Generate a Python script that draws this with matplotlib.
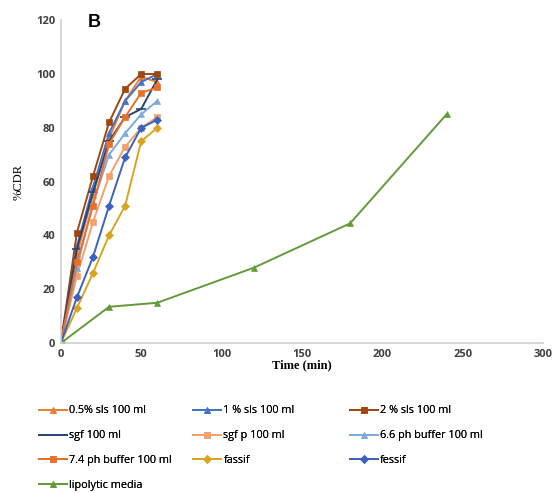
import matplotlib.pyplot as plt

# time points (min)
t_short = [0, 10, 20, 30, 40, 50, 60]
t_lipo = [0, 30, 60, 120, 180, 240]

sls_05 = [0, 33, 55, 76, 90, 99, 97]
sls_1 = [0, 36, 58, 78, 90, 97, 100]
sls_2 = [0, 41, 62, 82, 94.5, 100, 100]
sgf = [0, 35, 56, 75, 84, 87, 98]
sgf_p = [0, 25, 45, 62, 73, 80, 84]
ph_66 = [0, 28, 52, 70, 78, 85, 90]
ph_74 = [0, 30, 51, 74, 84, 93, 95]
fassif = [0, 13, 26, 40, 51, 75, 80]
fessif = [0, 17, 32, 51, 69, 80, 83]
lipolytic = [0, 13.5, 15, 28, 44.5, 85]

x_ticks = [0, 50, 100, 150, 200, 250, 300]
y_ticks = [0, 20, 40, 60, 80, 100, 120]

series = [
    ("0.5% sls 100 ml", t_short, sls_05, "#ED7D31", "^"),
    ("1 % sls 100 ml", t_short, sls_1, "#4472C4", "^"),
    ("2 % sls 100 ml", t_short, sls_2, "#9E480E", "s"),
    ("sgf 100 ml", t_short, sgf, "#264478", "_"),
    ("sgf p 100 ml", t_short, sgf_p, "#F4A06A", "s"),
    ("6.6 ph buffer 100 ml", t_short, ph_66, "#7FA9DC", "^"),
    ("7.4 ph buffer 100 ml", t_short, ph_74, "#E8712A", "s"),
    ("fassif", t_short, fassif, "#D9A520", "D"),
    ("fessif", t_short, fessif, "#3B62C0", "D"),
    ("lipolytic media", t_lipo, lipolytic, "#639A3A", "^"),
]

fig = plt.figure(figsize=(5.58, 4.93), dpi=100)
ax = fig.add_axes([0.109, 0.304, 0.864, 0.655])

handles = {}
for label, xs, ys, color, marker in series:
    ms = 5 if marker != "D" else 4
    if marker == "_":
        ms = 7
    h, = ax.plot(xs, ys, color=color, marker=marker, markersize=ms,
                 linewidth=1.4, markeredgewidth=1.2 if marker == "_" else 0.5,
                 label=label)
    handles[label] = h

ax.set_xlim(0, 300)
ax.set_ylim(0, 120)
ax.set_xticks(x_ticks)
ax.set_yticks(y_ticks)
for s in ["top", "right"]:
    ax.spines[s].set_visible(False)
for s in ["left", "bottom"]:
    ax.spines[s].set_color("#D0D0D0")
    ax.spines[s].set_linewidth(1.2)
ax.tick_params(length=0, labelsize=8, colors="#404040", pad=4)
for lab in ax.get_xticklabels() + ax.get_yticklabels():
    lab.set_fontweight("bold")
    lab.set_family("Open Sans")

ax.set_xlabel("Time (min)", family="Liberation Serif", fontweight="bold",
              fontsize=9, labelpad=0)
ax.set_ylabel("%CDR", family="Liberation Serif", fontsize=9, labelpad=8)

fig.text(0.158, 0.955, "B", fontsize=13, fontweight="bold",
         family="Liberation Sans", va="center")

# legend laid out row-wise in three columns, like the original
columns = [
    (["0.5% sls 100 ml", "sgf 100 ml", "7.4 ph buffer 100 ml", "lipolytic media"], 0.070),
    (["1 % sls 100 ml", "sgf p 100 ml", "fassif"], 0.346),
    (["2 % sls 100 ml", "6.6 ph buffer 100 ml", "fessif"], 0.627),
]
for names, x0 in columns:
    leg = fig.legend([handles[k] for k in names], names, loc="upper left",
                     bbox_to_anchor=(x0, 0.1775), ncol=1, frameon=False,
                     prop={"family": "Open Sans", "size": 7.8},
                     handlelength=2.6, labelspacing=1.28,
                     handletextpad=0.2, borderaxespad=0, borderpad=0,
                     markerscale=0.9)
    fig.add_artist(leg)

fig.savefig("out.png", dpi=100)
